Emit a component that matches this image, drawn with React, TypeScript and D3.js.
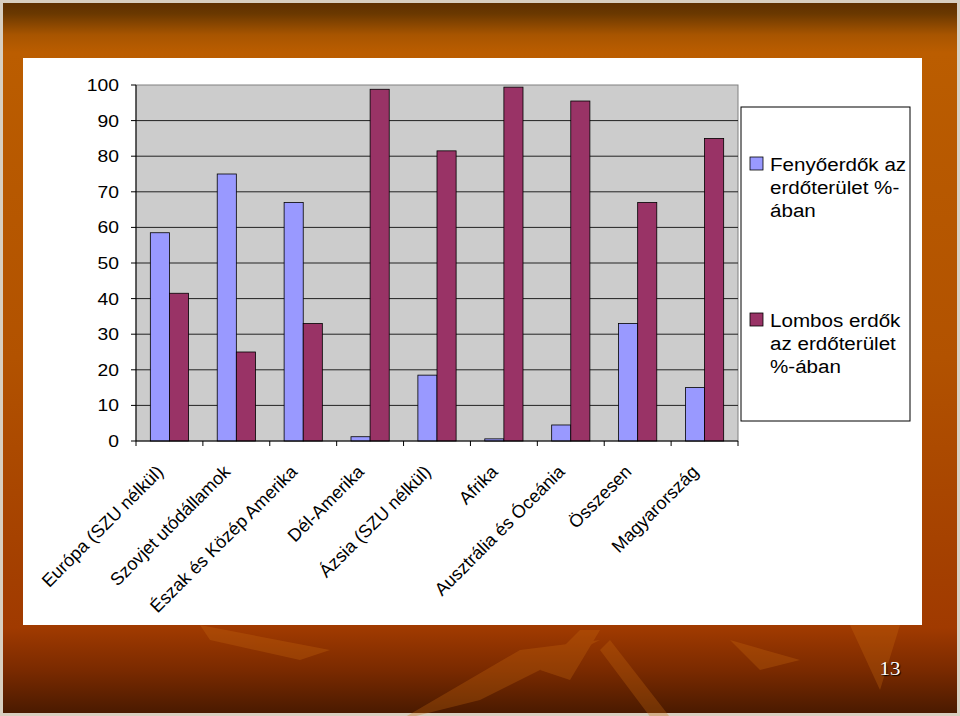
import React from "react";
import * as d3 from "d3";

const categories = [
  "Európa (SZU nélkül)",
  "Szovjet utódállamok",
  "Észak és Közép Amerika",
  "Dél-Amerika",
  "Ázsia (SZU nélkül)",
  "Afrika",
  "Ausztrália és Óceánia",
  "Összesen",
  "Magyarország",
];
const coniferous = [58.5, 75, 67, 1.2, 18.5, 0.6, 4.5, 33, 15];
const broadleaf = [41.5, 25, 33, 98.8, 81.5, 99.4, 95.5, 67, 85];
const yTicks = [0, 10, 20, 30, 40, 50, 60, 70, 80, 90, 100];
const seriesNames = ["Fenyőerdők az erdőterület %-ában", "Lombos erdők az erdőterület %-ában"];
const legendLines = [
  ["Fenyőerdők az", "erdőterület %-", "ában"],
  ["Lombos erdők", "az erdőterület", "%-ában"],
];
const colors = ["#9999FF", "#993366"];

export default function App() {
  const W = 960, H = 716;
  const left = 136, right = 738, top = 85, bottom = 441;
  const SX = 1.17;
  const x = d3.scaleBand<string>().domain(categories).range([left, right]).paddingInner(0).paddingOuter(0);
  const x1 = d3.scaleBand<string>().domain(["c", "b"]).range([0, x.bandwidth()]).paddingInner(0).paddingOuter(0.75);
  const y = d3.scaleLinear().domain([0, 100]).range([bottom, top]);
  const font = "'Liberation Sans', Arial, sans-serif";
  const series = [coniferous, broadleaf];
  const keys = ["c", "b"];

  return (
    <div style={{ position: "absolute", left: 0, top: 0 }}>
      <svg width={W} height={H} style={{ display: "block" }}>
        <defs>
          <linearGradient id="bg" x1="0" y1="0" x2="0" y2="1">
            <stop offset="0" stopColor="#5e3000" />
            <stop offset="0.015" stopColor="#6a3800" />
            <stop offset="0.045" stopColor="#a85500" />
            <stop offset="0.07" stopColor="#bb5d00" />
            <stop offset="0.5" stopColor="#b25200" />
            <stop offset="0.88" stopColor="#a03a00" />
            <stop offset="0.94" stopColor="#7a2a00" />
            <stop offset="1" stopColor="#4a1a00" />
          </linearGradient>
        </defs>
        <rect x={0} y={0} width={W} height={H} fill="#d8cfc0" />
        <rect x={3} y={3} width={W - 6} height={H - 6} fill="url(#bg)" />
        {/* decorative shapes */}
        <g fill="#c86a10" opacity={0.3}>
          <polygon points="200,625 330,650 300,660 210,640" />
          <polygon points="400,720 520,650 600,640 480,700" />
          <polygon points="540,670 580,630 600,630 570,680" />
          <polygon points="610,640 680,730 660,730 600,650" />
          <polygon points="850,625 900,625 880,690" />
          <polygon points="730,640 800,660 760,670" />
        </g>
        <rect x={23} y={58} width={899} height={567} fill="#ffffff" />

        {/* plot area */}
        <rect x={left} y={top} width={right - left} height={bottom - top} fill="#cccccc" stroke="#808080" strokeWidth={1} />
        {yTicks.map((t) => (
          <g key={t}>
            {t > 0 && t < 100 && (
              <line x1={left} x2={right} y1={y(t)} y2={y(t)} stroke="#222" strokeWidth={1} />
            )}
            <line x1={left - 5} x2={left} y1={y(t)} y2={y(t)} stroke="#000" />
            <text
              transform={`translate(119,${y(t)}) scale(${SX},1)`}
              dy="0.36em"
              textAnchor="end"
              fontFamily={font}
              fontSize={16.5}
              fill="#000"
            >
              {t}
            </text>
          </g>
        ))}
        {categories.map((c, i) => (
          <g key={c}>
            {series.map((s, j) => {
              const bx = (x(c) as number) + (x1(keys[j]) as number);
              return (
                <rect
                  key={j}
                  x={bx}
                  y={y(s[i])}
                  width={x1.bandwidth()}
                  height={y(0) - y(s[i])}
                  fill={colors[j]}
                  stroke="#000"
                  strokeWidth={0.8}
                />
              );
            })}
          </g>
        ))}
        <line x1={left} x2={left} y1={top} y2={bottom} stroke="#000" />
        <line x1={left} x2={right} y1={bottom} y2={bottom} stroke="#000" />
        {categories.map((c, i) => (
          <line key={"t" + i} x1={x(c) as number} x2={x(c) as number} y1={bottom} y2={bottom + 5} stroke="#000" />
        ))}
        <line x1={right} x2={right} y1={bottom} y2={bottom + 5} stroke="#000" />
        {categories.map((c) => {
          const cx = (x(c) as number) + x.bandwidth() / 2 - 5;
          return (
            <text
              key={"l" + c}
              transform={`translate(${cx},${bottom + 32}) rotate(-45)`}
              textAnchor="end"
              fontFamily={font}
              fontSize={18}
              fill="#000"
            >
              {c}
            </text>
          );
        })}

        {/* legend */}
        <rect x={741} y={107} width={169} height={314} fill="#fff" stroke="#000" strokeWidth={1} />
        {legendLines.map((lines, j) => {
          const y0 = j === 0 ? 157 : 313;
          return (
            <g key={seriesNames[j]}>
              <rect x={750} y={y0} width={13} height={13} fill={colors[j]} stroke="#000" strokeWidth={0.8} />
              {lines.map((ln, k) => (
                <text
                  key={k}
                  transform={`translate(770,${y0 + 14 + k * 23}) scale(${SX},1)`}
                  fontFamily={font}
                  fontSize={17.6}
                  fill="#000"
                >
                  {ln}
                </text>
              ))}
            </g>
          );
        })}

        <text
          transform={`translate(890,675) scale(1.1,1)`}
          textAnchor="middle"
          fontFamily="'Liberation Serif', 'Times New Roman', serif"
          fontSize={19}
          fill="#fff"
          style={{ textShadow: "1px 1px 1px #000" }}
        >
          13
        </text>
      </svg>
    </div>
  );
}
